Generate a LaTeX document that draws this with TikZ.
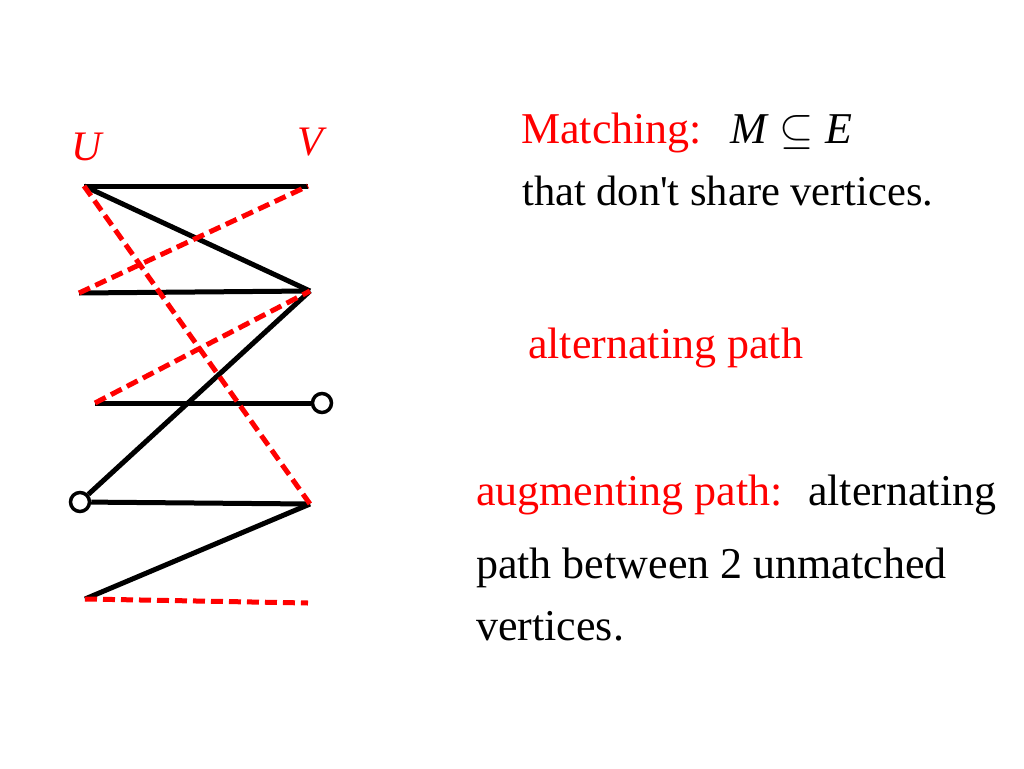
\RequirePackage{fix-cm}
\documentclass[tikz,border=0pt]{standalone}
\usepackage{fontspec}
\setmainfont{Liberation Serif}
\usetikzlibrary{positioning}

\begin{document}
\begin{tikzpicture}[x=1pt,y=-1pt,
  every node/.style={font=\fontsize{44}{52}\selectfont},
  matched/.style={line width=5pt},
  unmatched/.style={red,line width=5pt,dash pattern=on 12pt off 6pt},
  free/.style={circle,draw,line width=3.5pt,minimum size=19pt,inner sep=0pt},
  txt/.style={anchor=base west,inner sep=0pt}]
\useasboundingbox (0,0) rectangle (1024,768);

% Vertices
\coordinate (u1) at (84,186);
\coordinate (u2) at (79,293);
\coordinate (u3) at (95,403);
\node[free] (u4) at (80,502) {};
\coordinate (u5) at (85,599);
\coordinate (v1) at (308,186);
\coordinate (v2) at (310,291);
\node[free] (v3) at (322,403) {};
\coordinate (v4) at (310,504);
\coordinate (v5) at (308,603);

\node[red,anchor=base,font=\fontsize{42}{50}\selectfont] (U) at (88,160) {\textit{U}};
\node[red,anchor=base,font=\fontsize{42}{50}\selectfont] (V) at (312,155) {\textit{V}};

%edges
\draw[matched] (u1) -- (v1);
\draw[matched] (u1) -- (v2);
\draw[matched] (u2) -- (v2);
\draw[matched] (u3) -- (v3);
\draw[matched] (u4) -- (v2);
\draw[matched] (u4) -- (v4);
\draw[matched] (u5) -- (v4);

\draw[unmatched] (u1) -- (v4);
\draw[unmatched] (u2) -- (v1);
\draw[unmatched] (u3) -- (v2);
\draw[unmatched] (u5) -- (v5);

% Text
\node[txt,red] (match) at (521,143) {Matching:};
\node[txt] (sub) at (730,143) {\textit{M} $\subseteq$ \textit{E}};
\node[txt,font=\fontsize{42.5}{50}\selectfont] (share) at (522,205) {that don\textquotesingle t share vertices.};
\node[txt,red] (alt) at (528,358) {alternating path};
\node[txt,red] (aug) at (476,505) {augmenting path:};
\node[txt] (aug2) at (808,505) {alternating};
\node[txt] (aug3) at (476,578) {path between 2 unmatched};
\node[txt] (aug4) at (476,640) {vertices.};

\end{tikzpicture}
\end{document}
